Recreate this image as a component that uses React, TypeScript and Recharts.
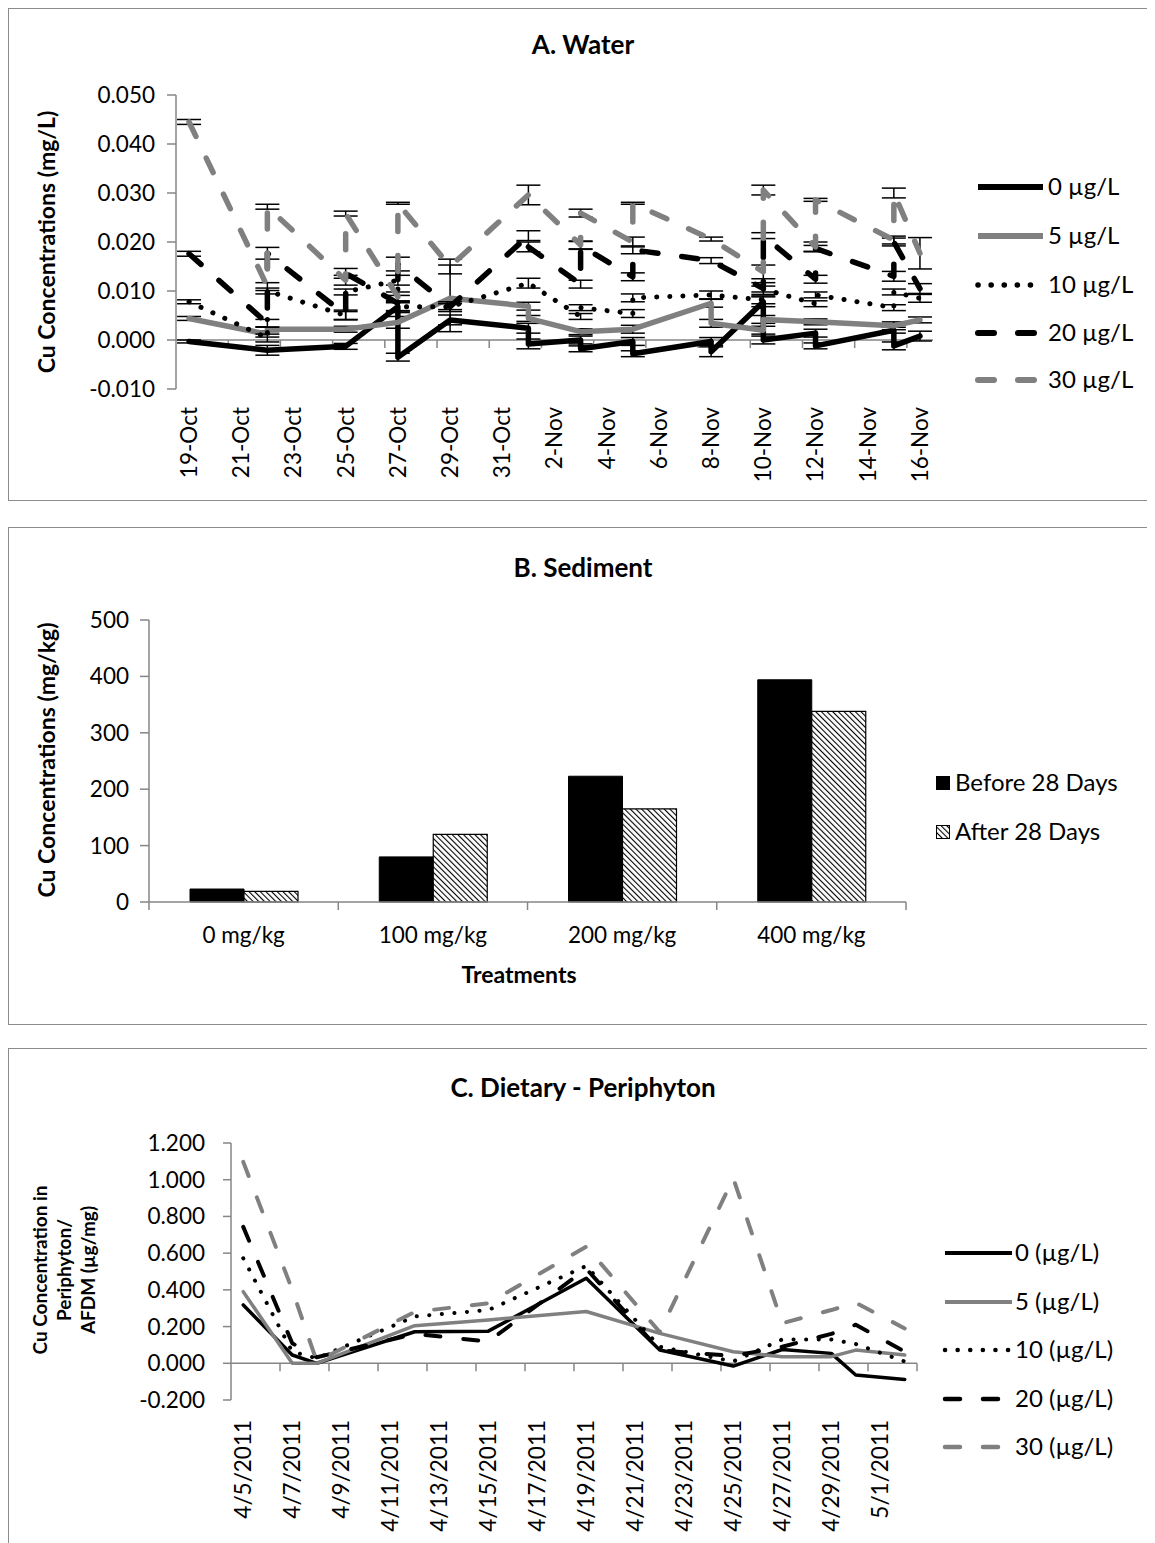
import React from "react";
import { LineChart, Line, XAxis, YAxis, ReferenceLine, ErrorBar, BarChart, Bar } from "recharts";

const FONT = "Lato, 'Open Sans', sans-serif";
const GREY = "#808080";
const AXIS = "#868686";

// ---------- A. Water: [day from 19-Oct, Cu mg/L, error] ----------
const waterTickLabels = ["19-Oct", "21-Oct", "23-Oct", "25-Oct", "27-Oct", "29-Oct", "31-Oct", "2-Nov", "4-Nov", "6-Nov", "8-Nov", "10-Nov", "12-Nov", "14-Nov", "16-Nov"];
const waterTicks = [0, 2, 4, 6, 8, 10, 12, 14, 16, 18, 20, 22, 24, 26, 28];

const water0 = [
  [0, -0.0003, 0.0003], [3, -0.0021, 0.001], [6, -0.0013, 0.0006], [8, 0.0068, 0.0012], [8, -0.0035, 0.0008],
  [10, 0.0041, 0.001], [13, 0.0024, 0.001], [13, -0.0008, 0.001], [15, 0.0, 0.0008], [15, -0.0018, 0.0006],
  [17, -0.0003, 0.0008], [17, -0.0028, 0.0006], [20, -0.0003, 0.0008], [20, -0.0024, 0.001], [22, 0.0078, 0.001],
  [22, 0.0, 0.0008], [24, 0.0014, 0.0008], [24, -0.0012, 0.0006], [27, 0.002, 0.0006], [27, -0.0012, 0.0008], [28, 0.0008, 0.001],
];
const water5 = [
  [0, 0.0044, 0.0004], [3, 0.0012, 0.0006], [3, 0.0022, 0.0005], [6, 0.0022, 0.0006], [8, 0.0036, 0.0012],
  [10, 0.0085, 0.0068], [13, 0.0069, 0.0008], [13, 0.0044, 0.0006], [15, 0.0017, 0.0006], [17, 0.0022, 0.0008],
  [20, 0.0075, 0.0008], [20, 0.0034, 0.0008], [22, 0.002, 0.0008], [22, 0.0042, 0.0008], [24, 0.0037, 0.0006],
  [27, 0.0029, 0.0008], [28, 0.0041, 0.0006],
];
const water10 = [
  [0, 0.0078, 0.0004], [3, 0.0004, 0.0008], [3, 0.01, 0.0006], [6, 0.005, 0.0008], [6, 0.0098, 0.0006],
  [8, 0.0122, 0.001], [8, 0.0068, 0.0008], [10, 0.0068, 0.0006], [13, 0.0116, 0.001], [15, 0.0048, 0.0006],
  [15, 0.0066, 0.0006], [17, 0.0054, 0.0008], [17, 0.0086, 0.0008], [20, 0.0092, 0.0008], [22, 0.0082, 0.0008],
  [22, 0.0104, 0.0006], [24, 0.0074, 0.0006], [24, 0.0092, 0.0006], [27, 0.0066, 0.0006], [27, 0.0098, 0.0006], [28, 0.0085, 0.0008],
];
const water20 = [
  [0, 0.0176, 0.0005], [3, 0.0034, 0.0008], [3, 0.0177, 0.0012], [6, 0.0051, 0.001], [6, 0.0136, 0.001],
  [8, 0.0075, 0.0016], [8, 0.0155, 0.0014], [10, 0.0068, 0.001], [13, 0.0213, 0.001], [13, 0.019, 0.001],
  [15, 0.0114, 0.0008], [15, 0.0193, 0.0008], [17, 0.0129, 0.0008], [17, 0.0184, 0.0008], [20, 0.0162, 0.0006],
  [22, 0.0105, 0.0012], [22, 0.0213, 0.0006], [24, 0.0124, 0.0008], [24, 0.0187, 0.0006], [27, 0.013, 0.001],
  [27, 0.02, 0.0008], [28, 0.0105, 0.001],
];
const water30 = [
  [0, 0.0445, 0.0005], [3, 0.0109, 0.0008], [3, 0.0272, 0.0005], [6, 0.0122, 0.001], [6, 0.0258, 0.0005],
  [8, 0.0088, 0.001], [8, 0.0279, 0.0002], [10, 0.015, 0.0015], [13, 0.0296, 0.002], [15, 0.0194, 0.0008],
  [15, 0.0259, 0.0008], [17, 0.02, 0.001], [17, 0.0279, 0.0002], [20, 0.0206, 0.0004], [22, 0.0139, 0.0014],
  [22, 0.0306, 0.001], [24, 0.019, 0.001], [24, 0.0286, 0.0003], [27, 0.0204, 0.0008], [27, 0.03, 0.001], [28, 0.0177, 0.0032],
];

// ---------- B. Sediment ----------
const sedCategories = ["0 mg/kg", "100 mg/kg", "200 mg/kg", "400 mg/kg"];
const sedBefore = [23, 80, 223, 394];
const sedAfter = [19, 120, 165, 338];

// ---------- C. Dietary - Periphyton: day from 4/5/2011 ----------
const periTickLabels = ["4/5/2011", "4/7/2011", "4/9/2011", "4/11/2011", "4/13/2011", "4/15/2011", "4/17/2011", "4/19/2011", "4/21/2011", "4/23/2011", "4/25/2011", "4/27/2011", "4/29/2011", "5/1/2011"];
const periTicks = [0, 2, 4, 6, 8, 10, 12, 14, 16, 18, 20, 22, 24, 26];
const periDays = [0, 2, 3, 7, 10, 14, 17, 20, 22, 24, 25, 27];
const peri0 = [0.318, 0.045, 0.0, 0.172, 0.175, 0.463, 0.072, -0.015, 0.075, 0.054, -0.064, -0.088];
const peri5 = [0.39, 0.0, 0.0, 0.205, 0.236, 0.282, 0.163, 0.063, 0.036, 0.036, 0.072, 0.045];
const peri10 = [0.572, 0.063, 0.027, 0.255, 0.29, 0.53, 0.09, 0.01, 0.13, 0.13, 0.105, 0.01];
const peri20 = [0.743, 0.109, 0.033, 0.16, 0.118, 0.515, 0.07, 0.04, 0.09, 0.16, 0.21, 0.063];
const peri30 = [1.097, 0.4, 0.01, 0.28, 0.327, 0.635, 0.17, 1.008, 0.218, 0.29, 0.33, 0.19];

const waterRows = (d: number[][]) => d.map(([x, y, e]) => ({ x, y, e }));
const periRows = (v: number[]) => periDays.map((x, i) => ({ x, y: v[i] }));

type Style = { color: string; width: number; dash?: string };
const waterStyles: Style[] = [
  { color: "#000", width: 5.5 },
  { color: GREY, width: 5.5 },
  { color: "#000", width: 5, dash: "0.1 13" },
  { color: "#000", width: 5.5, dash: "16 24" },
  { color: GREY, width: 5.5, dash: "16 24" },
];
const periStyles: Style[] = [
  { color: "#000", width: 3.5 },
  { color: GREY, width: 3.5 },
  { color: "#000", width: 4, dash: "0.1 12.5" },
  { color: "#000", width: 4, dash: "15 23" },
  { color: GREY, width: 4, dash: "15 23" },
];
const waterNames = ["0 µg/L", "5 µg/L", "10 µg/L", "20 µg/L", "30 µg/L"];
const periNames = ["0 (µg/L)", "5 (µg/L)", "10 (µg/L)", "20 (µg/L)", "30 (µg/L)"];
const waterData = [water0, water5, water10, water20, water30];
const periData = [peri0, peri5, peri10, peri20, peri30];

const W = 1147;
const TICK_FS = 22.5;
const LEG_FS = 24;
const AXT_FS = 23;

const RotTick = ({ x, payload, top, labels, step }: any) => (
  <text x={x} y={top} transform={`rotate(-90, ${x}, ${top})`} textAnchor="end" dy="0.35em"
    fontSize={TICK_FS} fontFamily={FONT} fill="#000">
    {labels[Math.round(payload.value / step)]}
  </text>
);

const yTick = { fontSize: TICK_FS, fill: "#000", fontFamily: FONT };

function Legend({ names, styles, x1, x2, tx, ys }: any) {
  return (
    <>
      {names.map((n: string, i: number) => (
        <g key={n}>
          <line x1={x1} x2={x2} y1={ys[i]} y2={ys[i]} stroke={styles[i].color} strokeWidth={styles[i].width + 0.5}
            strokeDasharray={styles[i].dash} strokeLinecap={styles[i].dash ? "round" : "butt"} />
          <text x={tx} y={ys[i]} dy="0.35em" fontSize={LEG_FS} fontFamily={FONT} fill="#000">{n}</text>
        </g>
      ))}
    </>
  );
}

const overlay: React.CSSProperties = { position: "absolute", left: 0, top: 0, pointerEvents: "none" };

function Panel({ top, height, children }: any) {
  return (
    <div style={{ position: "absolute", left: 0, top, width: 1160, height }}>
      <div style={{ position: "absolute", inset: 0, border: "1px solid #8c8c8c", boxSizing: "border-box" }} />
      {children}
    </div>
  );
}

function WaterPanel() {
  const H = 493;
  return (
    <Panel top={0} height={H}>
      <div style={{ position: "absolute", left: 0, top: 0 }}>
        <LineChart width={W} height={H} margin={{ top: 87, right: 222, bottom: 12, left: 68 }}>
          <XAxis type="number" dataKey="x" domain={[-0.5, 28.5]} ticks={waterTicks} interval={0} allowDataOverflow
            axisLine={false} tickLine={false} height={100}
            tick={(p: any) => <RotTick {...p} top={399} labels={waterTickLabels} step={2} />} />
          <YAxis type="number" domain={[-0.01, 0.05]} ticks={[-0.01, 0, 0.01, 0.02, 0.03, 0.04, 0.05]} interval={0}
            allowDataOverflow width={100} tick={yTick} tickSize={9} tickMargin={12}
            tickFormatter={(v: number) => v.toFixed(3)}
            axisLine={{ stroke: AXIS, strokeWidth: 1.5 }} tickLine={{ stroke: AXIS, strokeWidth: 1.5 }} />
          <ReferenceLine y={0} stroke={AXIS} strokeWidth={1.5} />
          {[1.5, 3.5, 5.5, 7.5, 9.5, 11.5, 13.5, 15.5, 17.5, 19.5, 21.5, 23.5, 25.5, 27.5].map((b) => (
            <ReferenceLine key={b} segment={[{ x: b, y: 0 }, { x: b, y: -0.00165 }]} stroke={AXIS} strokeWidth={1.5} ifOverflow="visible" />
          ))}
          {waterData.map((d, i) => (
            <Line key={waterNames[i]} data={waterRows(d)} dataKey="y" name={waterNames[i]} type="linear"
              stroke={waterStyles[i].color} strokeWidth={waterStyles[i].width} strokeDasharray={waterStyles[i].dash}
              strokeLinecap="round" strokeLinejoin="round" dot={false} activeDot={false} isAnimationActive={false}>
              <ErrorBar dataKey="e" width={12} strokeWidth={1.5} stroke="#000" direction="y" />
            </Line>
          ))}
        </LineChart>
      </div>
      <svg width={W} height={H} style={overlay}>
        <text x={575} y={37} textAnchor="middle" dy="0.35em" fontSize={26} fontWeight={700} fontFamily={FONT}>A. Water</text>
        <text x={39} y={234} transform="rotate(-90, 39, 234)" textAnchor="middle" dy="0.35em" fontSize={AXT_FS} fontWeight={700} fontFamily={FONT}>
          Cu Concentrations (mg/L)
        </text>
        <Legend names={waterNames} styles={waterStyles} x1={970} x2={1035} tx={1040} ys={[179, 228, 277, 325, 372]} />
      </svg>
    </Panel>
  );
}

const BAND = 189.3;
const SED_AXIS_Y = 375;

const SedTick = ({ x, payload }: any) => (
  <g>
    <line x1={x + BAND / 2} x2={x + BAND / 2} y1={SED_AXIS_Y} y2={SED_AXIS_Y + 8} stroke={AXIS} strokeWidth={1.5} />
    {payload.index === 0 && <line x1={x - BAND / 2} x2={x - BAND / 2} y1={SED_AXIS_Y} y2={SED_AXIS_Y + 8} stroke={AXIS} strokeWidth={1.5} />}
    <text x={x} y={408} textAnchor="middle" dy="0.35em" fontSize={TICK_FS} fontFamily={FONT} fill="#000">{payload.value}</text>
  </g>
);

function SedimentPanel() {
  const H = 498;
  const rows = sedCategories.map((c, i) => ({ c, before: sedBefore[i], after: sedAfter[i] }));
  return (
    <Panel top={519} height={H}>
      <div style={{ position: "absolute", left: 0, top: 0 }}>
        <BarChart width={W} height={H} data={rows} margin={{ top: 93, right: 249, bottom: 63, left: 41 }} barSize={54} barGap={0}>
          <XAxis dataKey="c" interval={0} height={60} tickLine={false} tickSize={0}
            axisLine={{ stroke: AXIS, strokeWidth: 1.5 }} tick={SedTick} />
          <YAxis domain={[0, 500]} ticks={[0, 100, 200, 300, 400, 500]} interval={0} width={100} tick={yTick}
            tickSize={9} tickMargin={11} axisLine={{ stroke: AXIS, strokeWidth: 1.5 }} tickLine={{ stroke: AXIS, strokeWidth: 1.5 }} />
          <Bar dataKey="before" name="Before 28 Days" fill="#000" stroke="#000" strokeWidth={1} isAnimationActive={false} />
          <Bar dataKey="after" name="After 28 Days" fill="url(#hatch)" stroke="#000" strokeWidth={1.2} isAnimationActive={false} />
        </BarChart>
      </div>
      <svg width={W} height={H} style={overlay}>
        <text x={575} y={41} textAnchor="middle" dy="0.35em" fontSize={26} fontWeight={700} fontFamily={FONT}>B. Sediment</text>
        <text x={39} y={233} transform="rotate(-90, 39, 233)" textAnchor="middle" dy="0.35em" fontSize={AXT_FS} fontWeight={700} fontFamily={FONT}>
          Cu Concentrations (mg/kg)
        </text>
        <text x={511} y={448} textAnchor="middle" dy="0.35em" fontSize={AXT_FS} fontWeight={700} fontFamily={FONT}>Treatments</text>
        <rect x={928} y={249} width={14} height={14} fill="#000" />
        <text x={947} y={256} dy="0.35em" fontSize={LEG_FS} fontFamily={FONT}>Before 28 Days</text>
        <rect x={928.5} y={298.5} width={13} height={13} fill="url(#hatch)" stroke="#000" strokeWidth={1} />
        <text x={947} y={305} dy="0.35em" fontSize={LEG_FS} fontFamily={FONT}>After 28 Days</text>
      </svg>
    </Panel>
  );
}

function PeriphytonPanel() {
  const H = 520;
  return (
    <Panel top={1040} height={H}>
      <div style={{ position: "absolute", left: 0, top: 0 }}>
        <LineChart width={W} height={H} margin={{ top: 95, right: 238, bottom: 25, left: 123 }}>
          <XAxis type="number" dataKey="x" domain={[-0.5, 27.5]} ticks={periTicks} interval={0} allowDataOverflow
            axisLine={false} tickLine={false} height={143}
            tick={(p: any) => <RotTick {...p} top={372} labels={periTickLabels} step={2} />} />
          <YAxis type="number" domain={[-0.2, 1.2]} ticks={[-0.2, 0, 0.2, 0.4, 0.6, 0.8, 1.0, 1.2]} interval={0}
            allowDataOverflow width={100} tick={yTick} tickSize={8} tickMargin={18}
            tickFormatter={(v: number) => v.toFixed(3)}
            axisLine={{ stroke: AXIS, strokeWidth: 1.5 }} tickLine={{ stroke: AXIS, strokeWidth: 1.5 }} />
          <ReferenceLine y={0} stroke={AXIS} strokeWidth={1.5} />
          {[1.5, 3.5, 5.5, 7.5, 9.5, 11.5, 13.5, 15.5, 17.5, 19.5, 21.5, 23.5, 25.5, 27.5].map((b) => (
            <ReferenceLine key={b} segment={[{ x: b, y: 0 }, { x: b, y: -0.044 }]} stroke={AXIS} strokeWidth={1.5} ifOverflow="visible" />
          ))}
          {periData.map((v, i) => (
            <Line key={periNames[i]} data={periRows(v)} dataKey="y" name={periNames[i]} type="linear"
              stroke={periStyles[i].color} strokeWidth={periStyles[i].width} strokeDasharray={periStyles[i].dash}
              strokeLinecap="round" strokeLinejoin="round" dot={false} activeDot={false} isAnimationActive={false} />
          ))}
        </LineChart>
      </div>
      <svg width={W} height={H} style={overlay}>
        <text x={575} y={40} textAnchor="middle" dy="0.35em" fontSize={26} fontWeight={700} fontFamily={FONT}>C. Dietary - Periphyton</text>
        {["Cu Concentration in", "Periphyton/", "AFDM (µg/mg)"].map((t, i) => {
          const x = 32 + i * 24;
          return (
            <text key={t} x={x} y={222} transform={`rotate(-90, ${x}, 222)`} textAnchor="middle" dy="0.35em"
              fontSize={19} fontWeight={700} fontFamily={FONT}>{t}</text>
          );
        })}
        <Legend names={periNames} styles={periStyles} x1={937} x2={1004} tx={1007} ys={[205, 254, 302, 351, 399]} />
      </svg>
    </Panel>
  );
}

export default function App() {
  return (
    <div style={{ position: "relative", width: W, height: 1535, overflow: "hidden", fontFamily: FONT, background: "#fff" }}>
      <svg width={0} height={0} style={{ position: "absolute" }}>
        <defs>
          <pattern id="hatch" width={4} height={4} patternUnits="userSpaceOnUse" patternTransform="rotate(-45)">
            <rect width={4} height={4} fill="#fff" />
            <line x1={0} y1={0} x2={0} y2={4} stroke="#000" strokeWidth={2.2} />
          </pattern>
        </defs>
      </svg>
      <WaterPanel />
      <SedimentPanel />
      <PeriphytonPanel />
    </div>
  );
}
